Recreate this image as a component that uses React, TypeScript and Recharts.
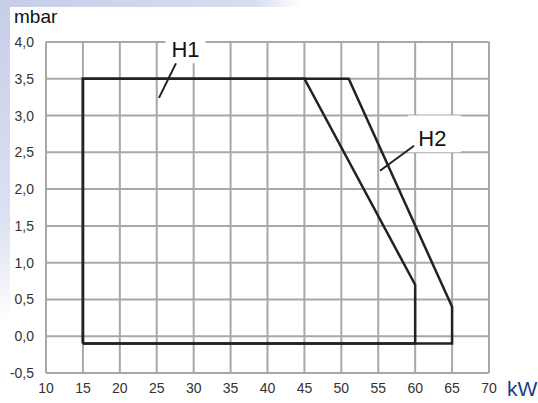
import { LineChart, Line, XAxis, YAxis, CartesianGrid, ReferenceLine, ReferenceArea } from 'recharts';

const xTicks = [10, 15, 20, 25, 30, 35, 40, 45, 50, 55, 60, 65, 70];
const yTicks = [-0.5, 0, 0.5, 1, 1.5, 2, 2.5, 3, 3.5, 4];

// outline of field H1 (kW, mbar)
const h1 = [
  { x: 15, y: -0.1 },
  { x: 15, y: 3.5 },
  { x: 45, y: 3.5 },
  { x: 60, y: 0.7 },
  { x: 60, y: -0.1 },
  { x: 15, y: -0.1 },
];

// outline of field H2
const h2 = [
  { x: 15, y: -0.1 },
  { x: 15, y: 3.5 },
  { x: 51, y: 3.5 },
  { x: 65, y: 0.4 },
  { x: 65, y: -0.1 },
  { x: 15, y: -0.1 },
];

const font = '"Liberation Sans", Arial, sans-serif';

export default function App() {
  return (
    <div
      style={{
        position: 'absolute',
        left: 0,
        top: 0,
        width: 538,
        height: 403,
        overflow: 'hidden',
        background: '#fff',
        fontFamily: font,
      }}
    >
      {/* scan edge tint */}
      <div
        style={{
          position: 'absolute',
          left: 0,
          top: 0,
          width: 10,
          height: 403,
          background: 'linear-gradient(to bottom, #c6cde8, #dde1f1 55%, #fff 80%)',
        }}
      />
      <div
        style={{
          position: 'absolute',
          left: 0,
          top: 0,
          width: 300,
          height: 7,
          background: 'linear-gradient(to right, #c6cde8, #d8ddf0 85%, #fff)',
        }}
      />
      <div style={{ position: 'absolute', left: 14, top: 6, fontSize: 19, color: '#111' }}>mbar</div>
      <div style={{ position: 'absolute', left: 507, top: 377, fontSize: 21, color: '#1a3c8c' }}>kW</div>
      <LineChart
        width={538}
        height={403}
        margin={{ top: 42, right: 49, bottom: 0, left: 6 }}
        style={{ position: 'absolute', left: 0, top: 0 }}
      >
        <CartesianGrid stroke="#a8a8a8" strokeWidth={2} />
        <XAxis
          type="number"
          dataKey="x"
          domain={[10, 70]}
          ticks={xTicks}
          interval={0}
          axisLine={false}
          tickLine={false}
          tickSize={0}
          tickMargin={10}
          height={30}
          tick={{ fill: '#333', fontSize: 14, fontFamily: font }}
          allowDataOverflow
        />
        <YAxis
          type="number"
          dataKey="y"
          domain={[-0.5, 4]}
          ticks={yTicks}
          interval={0}
          axisLine={false}
          tickLine={false}
          tickSize={0}
          tickMargin={12}
          width={40}
          tick={{ fill: '#333', fontSize: 14, fontFamily: font }}
          tickFormatter={(v: number) => v.toFixed(1).replace('.', ',')}
          allowDataOverflow
        />
        <ReferenceArea
          x1={26.2}
          x2={31.6}
          y1={3.71}
          y2={4.1}
          fill="#fff"
          fillOpacity={1}
          stroke="none"
          ifOverflow="visible"
          label={{ value: 'H1', position: 'center', fill: '#111', fontSize: 22, fontFamily: font, dy: 0 }}
        />
        <ReferenceArea
          x1={59.0}
          x2={66.2}
          y1={2.5}
          y2={3.0}
          fill="#fff"
          fillOpacity={1}
          stroke="none"
          ifOverflow="visible"
          label={{ value: 'H2', position: 'center', fill: '#111', fontSize: 22, fontFamily: font, dy: 4, dx: -2 }}
        />
        <ReferenceLine
          segment={[{ x: 27.6, y: 3.71 }, { x: 25.3, y: 3.24 }]}
          stroke="#222"
          strokeWidth={2}
        />
        <ReferenceLine
          segment={[{ x: 59.85, y: 2.59 }, { x: 55.24, y: 2.25 }]}
          stroke="#222"
          strokeWidth={2}
        />
        <Line data={h1} dataKey="y" type="linear" stroke="#222" strokeWidth={2.5} dot={false} isAnimationActive={false} />
        <Line data={h2} dataKey="y" type="linear" stroke="#222" strokeWidth={2.5} dot={false} isAnimationActive={false} />
      </LineChart>
    </div>
  );
}
